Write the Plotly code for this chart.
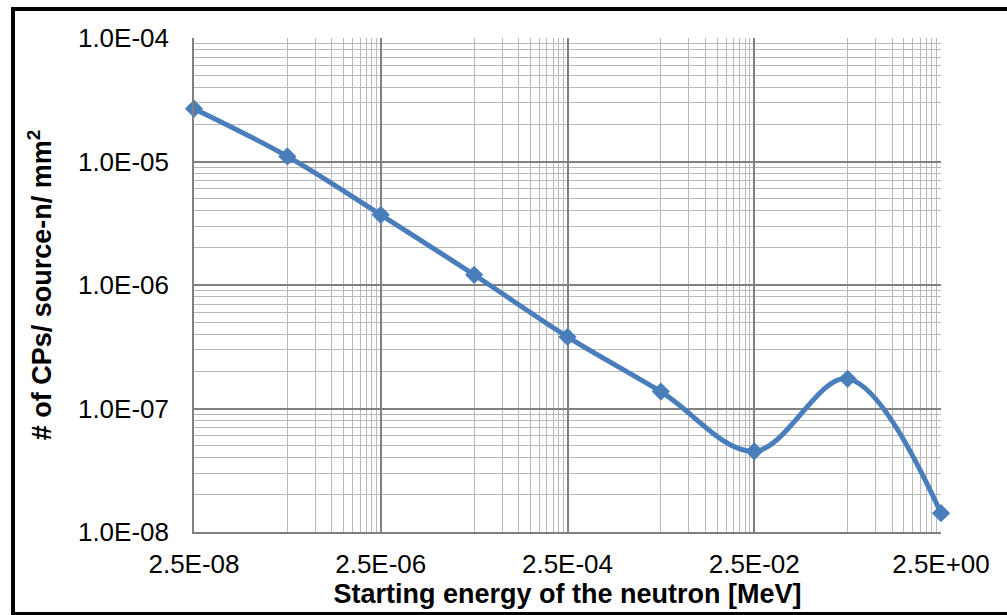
import plotly.graph_objects as go
import numpy as np

# ---- data ----
energy_mev = [2.5e-08, 2.5e-07, 2.5e-06, 2.5e-05, 2.5e-04, 2.5e-03, 2.5e-02, 2.5e-01, 2.5e+00]
cps_per_n_mm2 = [2.68e-05, 1.10e-05, 3.70e-06, 1.21e-06, 3.80e-07, 1.37e-07, 4.50e-08, 1.74e-07, 1.42e-08]

x_tick_vals = [2.5e-08, 2.5e-06, 2.5e-04, 2.5e-02, 2.5e+00]
x_tick_text = ["2.5E-08", "2.5E-06", "2.5E-04", "2.5E-02", "2.5E+00"]
y_tick_vals = [1e-08, 1e-07, 1e-06, 1e-05, 1e-04]
y_tick_text = ["1.0E-08", "1.0E-07", "1.0E-06", "1.0E-05", "1.0E-04"]
x_extra_major_grid = 1.0  # darker vertical gridline seen in the reference

x_title = "Starting energy of the neutron [MeV]"
y_title = "# of CPs/ source-n/ mm<sup>2</sup>"

# minor gridline positions (Excel log base-100 x axis, log base-10 y axis)
x_minor = [m * 10 * k for m in [2.5e-08, 2.5e-06, 2.5e-04, 2.5e-02] for k in range(1, 10)]
y_minor = [d * k for d in [1e-08, 1e-07, 1e-06, 1e-05] for k in range(2, 10)]

BLUE = "#4A7EBB"
MAJOR = "#808080"
MINOR = "#B8B8B8"
FONT = "Liberation Sans, Arial, sans-serif"

fig = go.Figure()
fig.add_trace(go.Scatter(
    x=energy_mev, y=cps_per_n_mm2, mode="lines+markers",
    line=dict(color=BLUE, width=5, shape="spline", smoothing=1.0),
    marker=dict(symbol="diamond", size=14, color=BLUE),
    showlegend=False, cliponaxis=False,
))

W, H = 1007, 615
L, R, T, B = 194, 66, 38, 83
pw, ph = W - L - R, H - T - B

def px(xp):
    return (xp - L) / pw

def py(yp):
    return (H - B - yp) / ph

fig.update_layout(
    width=W, height=H,
    margin=dict(l=L, r=R, t=T, b=B, autoexpand=False),
    paper_bgcolor="white", plot_bgcolor="white",
    font=dict(family=FONT, color="black"),
    xaxis=dict(
        type="log", range=[np.log10(2.5e-08), np.log10(2.5)],
        tickmode="array", tickvals=x_tick_vals, ticktext=x_tick_text,
        tickfont=dict(size=26), ticks="outside", ticklen=8, tickcolor="rgba(0,0,0,0)",
        showgrid=True, gridcolor=MAJOR, gridwidth=1.6,
        minor=dict(tickmode="array", tickvals=x_minor, showgrid=True, gridcolor=MINOR, gridwidth=1.2, ticks=""),
        showline=True, linecolor=MAJOR, linewidth=1.6, mirror=False,
        zeroline=False, automargin=False,
        title=dict(text=x_title, font=dict(size=27, family=FONT, weight="bold"), standoff=4),
    ),
    yaxis=dict(
        type="log", range=[-8, -4],
        tickmode="array", tickvals=y_tick_vals, ticktext=y_tick_text,
        tickfont=dict(size=26), ticks="outside", ticklen=18, tickcolor="rgba(0,0,0,0)",
        showgrid=True, gridcolor=MAJOR, gridwidth=1.6,
        minor=dict(tickmode="array", tickvals=y_minor, showgrid=True, gridcolor=MINOR, gridwidth=1.2, ticks=""),
        showline=True, linecolor=MAJOR, linewidth=1.6, mirror=False,
        zeroline=False, automargin=False,
        title=dict(text=y_title, font=dict(size=27, family=FONT, weight="bold"), standoff=18),
    ),
    shapes=[
        dict(type="line", xref="x", yref="paper",
             x0=np.log10(x_extra_major_grid), x1=np.log10(x_extra_major_grid), y0=0, y1=1,
             line=dict(color=MAJOR, width=1.6), layer="between"),
        dict(type="rect", xref="paper", yref="paper",
             x0=px(13), x1=px(1015), y0=py(9), y1=py(614),
             line=dict(color="black", width=4), fillcolor="rgba(0,0,0,0)", layer="above"),
    ],
)

fig.write_html("out.html")
